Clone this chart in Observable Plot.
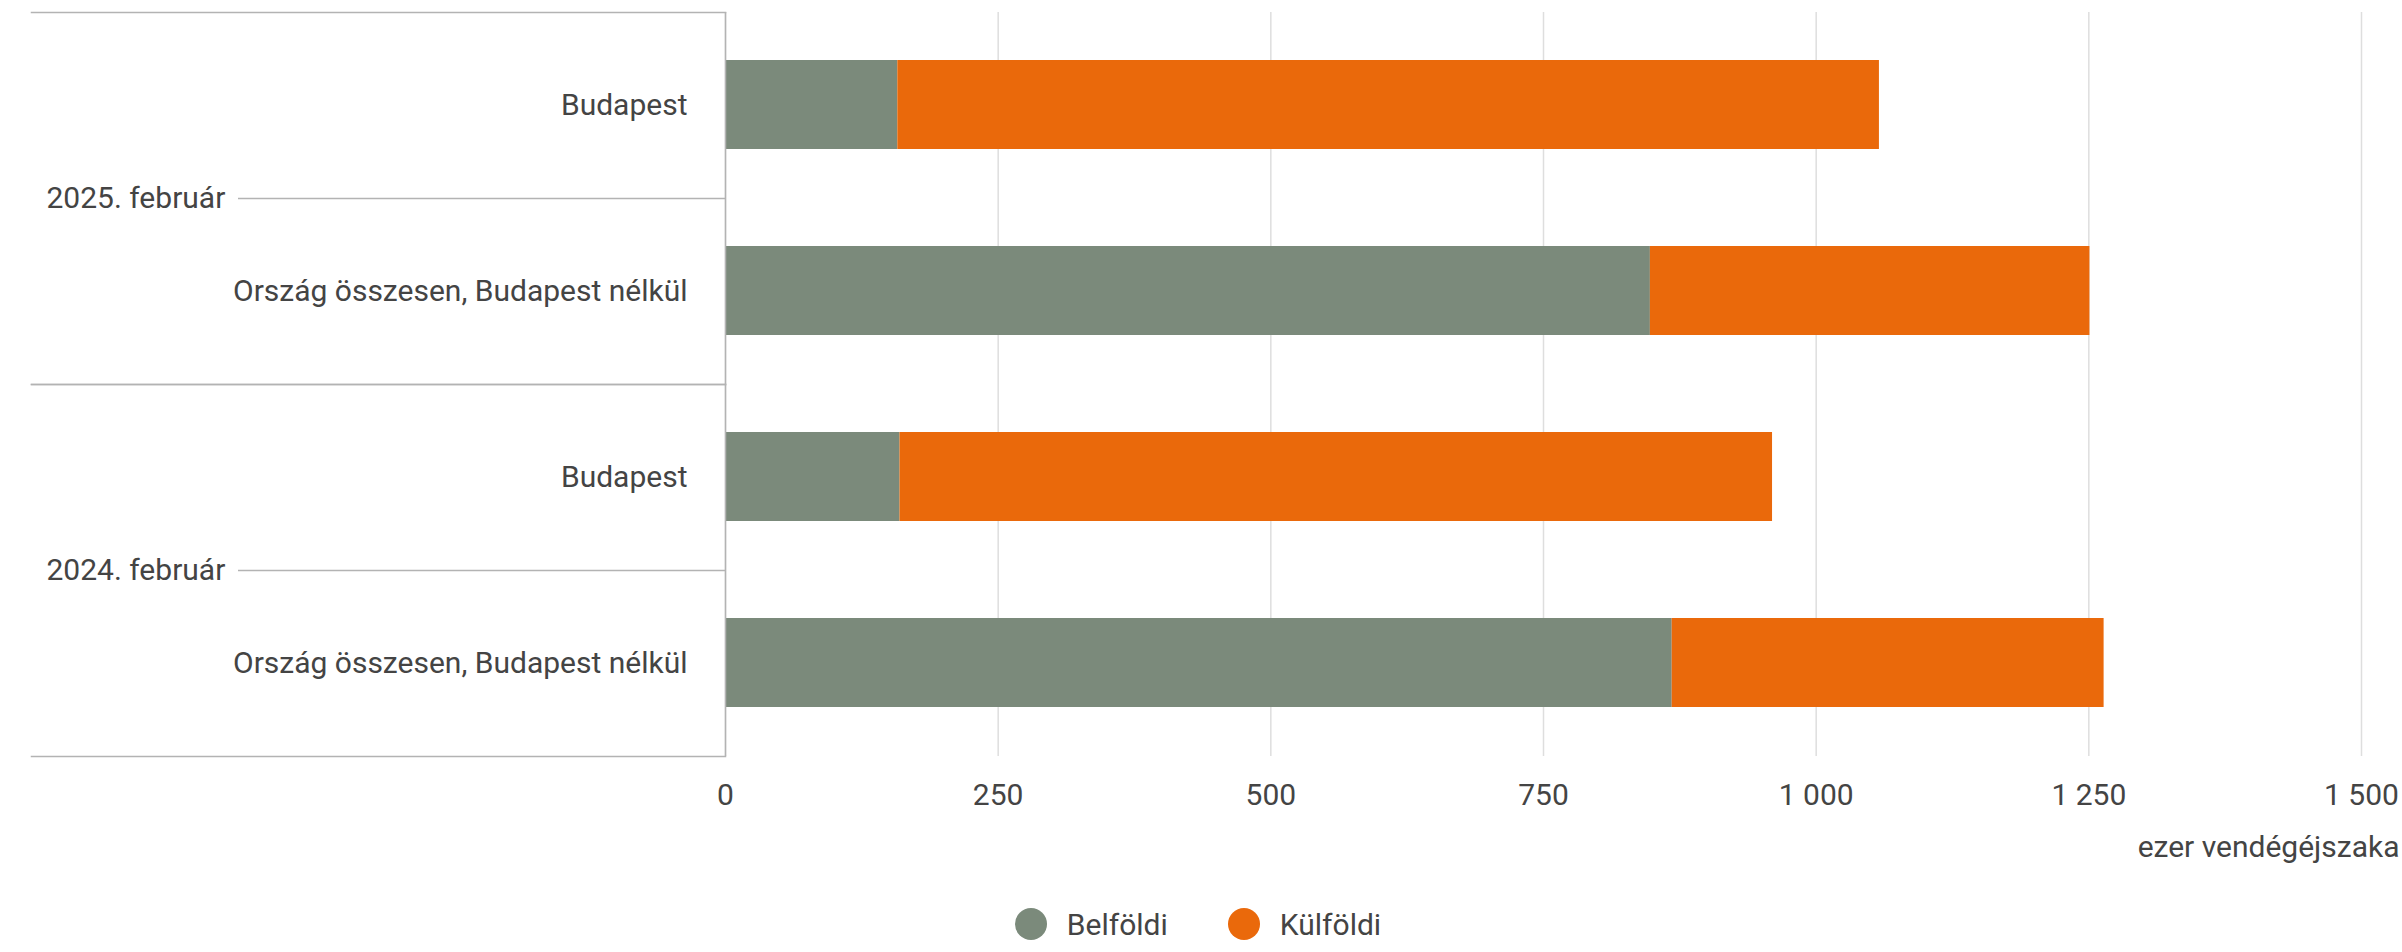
<!DOCTYPE html>
<html>
<head>
<meta charset="utf-8">
<script src="https://cdn.jsdelivr.net/npm/d3@7"></script>
<script src="https://cdn.jsdelivr.net/npm/@observablehq/plot@0.6"></script>
<style>
  html, body { margin: 0; padding: 0; background: #fff; }
  body { width: 2402px; font-family: Roboto, sans-serif; }
  #legend { height: 72px; display: flex; justify-content: center; align-items: center; gap: 60px; font-family: Roboto, sans-serif; font-size: 30px; color: #444; padding-top: 16px; padding-right: 6px; box-sizing: border-box; }
  .item { display: flex; align-items: center; gap: 20px; }
  .dot { width: 32px; height: 32px; border-radius: 50%; display: inline-block; }
</style>
</head>
<body>
<div id="chart"></div>
<div id="legend"></div>
<script>
const periods = ["2025. február", "2024. február"];
const regions = ["Budapest", "Ország összesen, Budapest nélkül"];
const series = ["Belföldi", "Külföldi"];
const colors = ["#7b8a7b", "#ea690b"];
// values in order: 2025 Budapest, 2025 Ország, 2024 Budapest, 2024 Ország
const belfoldi = [158, 848, 160, 868];
const kulfoldi = [900, 403, 800, 396];
const xTicks = [0, 250, 500, 750, 1000, 1250, 1500];
const xLabel = "ezer vendégéjszaka";

const rows = [];
const cats = [];
periods.forEach(p => regions.forEach(r => cats.push({period: p, region: r})));
cats.forEach((c, i) => rows.push({...c, series: series[0], value: belfoldi[i]}));
cats.forEach((c, i) => rows.push({...c, series: series[1], value: kulfoldi[i]}));

const fmt = d3.formatLocale({decimal: ",", thousands: " ", grouping: [3], currency: ["", ""]}).format(",d");
const grid = "#dedede";
const lineColor = "#b3b3b3";
const textColor = "#444";

const W = 2402, ML = 725, MR = 41;
const plotW = W - ML - MR;

const chart = Plot.plot({
  width: W,
  height: 880,
  marginLeft: ML,
  marginRight: MR,
  marginTop: 12,
  marginBottom: 124,
  style: {fontFamily: "Roboto, sans-serif", fontSize: "30px", color: textColor, background: "#fff"},
  x: {domain: [0, 1500]},
  y: {domain: regions, paddingInner: 0.52, paddingOuter: 0.26},
  fy: {domain: periods, padding: 0},
  color: {domain: series, range: colors},
  marks: [
    Plot.gridX(xTicks, {stroke: grid, strokeOpacity: 1, strokeWidth: 1.5}),
    Plot.barX(rows, {x: "value", y: "region", fy: "period", fill: "series"}),
    Plot.ruleX([0], {stroke: lineColor, strokeWidth: 1.5}),
    Plot.frame({anchor: "top", stroke: lineColor, strokeWidth: 1.5, insetLeft: -694, insetRight: plotW}),
    Plot.frame({anchor: "bottom", stroke: lineColor, strokeWidth: 1.5, insetLeft: -694, insetRight: plotW}),
    Plot.axisY({tickSize: 0, tickPadding: 38, fontSize: 30, fill: textColor, label: null}),
    Plot.axisFy({anchor: "left", tickSize: 487, fill: "none", stroke: lineColor, strokeWidth: 1.5, label: null}),
    Plot.axisFy({anchor: "left", tickSize: 0, tickPadding: 0, textAnchor: "start", dx: -679, fontSize: 30, fill: textColor, label: null}),
    Plot.axisX(xTicks, {tickSize: 0, tickPadding: 27, fontSize: 30, fill: textColor, tickFormat: fmt,
      label: xLabel, labelAnchor: "right", labelArrow: "none", labelOffset: 100})
  ]
});
document.getElementById("chart").appendChild(chart);

const legend = document.getElementById("legend");
series.forEach((s, i) => {
  const item = document.createElement("span");
  item.className = "item";
  const dot = document.createElement("span");
  dot.className = "dot";
  dot.style.background = colors[i];
  item.appendChild(dot);
  item.appendChild(document.createTextNode(s));
  legend.appendChild(item);
});
</script>
</body>
</html>
